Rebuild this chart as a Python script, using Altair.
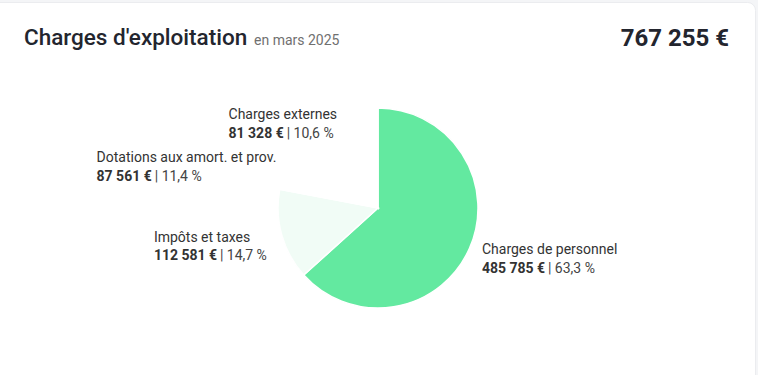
import altair as alt
import pandas as pd

# ---- data ----
categories = ["Charges de personnel", "Impôts et taxes",
              "Dotations aux amort. et prov.", "Charges externes"]
values = [485785, 112581, 87561, 81328]
percents = [63.3, 14.7, 11.4, 10.6]
total_label = "767 255 €"
title_text = "Charges d'exploitation"
subtitle_text = "en mars 2025"

# ---- styles ----
slice_colors = ["#63e9a0", "#f1fcf6", "#ffffff", "#ffffff"]
FONT = "Roboto"
W, H = 758, 375
CX, CY, R = 378, 208, 100
LR = 105  # label anchor radius


def fr_money(v):
    return f"{v:,}".replace(",", " ") + " €"


def fr_pct(p):
    return "| " + f"{p:.1f}".replace(".", ",") + " %"


df = pd.DataFrame({
    "cat": categories,
    "value": values,
    "vtxt": [fr_money(v) for v in values],
    "ptxt": [fr_pct(p) for p in percents],
    "idx": list(range(len(categories))),
})

base = alt.Chart(df)

pie = base.mark_arc(outerRadius=R, stroke="white", strokeWidth=1.5).encode(
    theta=alt.Theta("value:Q", stack=True),
    order=alt.Order("idx:Q"),
    color=alt.Color("cat:N", scale=alt.Scale(domain=categories, range=slice_colors), legend=None),
    x=alt.value(CX),
    y=alt.value(CY),
)

# label geometry derived from the slice angles
lab = base.transform_joinaggregate(
    total="sum(value)"
).transform_window(
    cum="sum(value)", sort=[alt.SortField("idx")], frame=[None, 0]
).transform_calculate(
    mid="(datum.cum - datum.value/2) / datum.total * 2 * PI",
).transform_calculate(
    ax=f"{CX} + {LR} * sin(datum.mid)",
    ay=f"{CY} - {LR} * cos(datum.mid)",
    right="sin(datum.mid) > 0",
).transform_calculate(
    w1="length(datum.cat) * 6.3",
    wb="length(replace(datum.vtxt, regexp(' ', 'g'), '')) * 7.86 + (length(datum.vtxt) - length(replace(datum.vtxt, regexp(' ', 'g'), ''))) * 3.5",
).transform_calculate(
    w2="datum.wb + 4 + 48",
).transform_calculate(
    left="datum.right ? datum.ax + 8 : datum.ax - 9 - max(datum.w1, datum.w2)",
    y1="datum.right ? datum.ay - 0.5 : datum.ay + 2.5 + 4 * cos(datum.mid)",
).transform_calculate(
    y2="datum.y1 + 18.5",
    xp="datum.left + datum.wb + 4",
)

line1 = lab.mark_text(align="left", baseline="middle", font=FONT, fontSize=14, color="#333333").encode(
    x=alt.X("left:Q", scale=None), y=alt.Y("y1:Q", scale=None), text="cat:N")
line2b = lab.mark_text(align="left", baseline="middle", font=FONT, fontSize=14, fontWeight="bold", color="#333333").encode(
    x=alt.X("left:Q", scale=None), y=alt.Y("y2:Q", scale=None), text="vtxt:N")
line2p = lab.mark_text(align="left", baseline="middle", font=FONT, fontSize=14, color="#444444").encode(
    x=alt.X("xp:Q", scale=None), y=alt.Y("y2:Q", scale=None), text="ptxt:N")

one = alt.Data(values=[{"a": 1}])
card = alt.Chart(one).mark_rect(fill="white", stroke="#ebecef", strokeWidth=1, cornerRadius=8).encode(
    x=alt.value(-10), x2=alt.value(755.5), y=alt.value(2.5), y2=alt.value(385))

title = alt.Chart(one).mark_text(align="left", baseline="alphabetic", font=FONT, fontSize=22.5,
                                  fontWeight=500, color="#23252e").encode(
    x=alt.value(24), y=alt.value(44.5), text=alt.value(title_text))
subtitle = alt.Chart(one).mark_text(align="left", baseline="alphabetic", font=FONT, fontSize=14,
                                     color="#707070").encode(
    x=alt.value(254), y=alt.value(44.5), text=alt.value(subtitle_text))
total = alt.Chart(one).mark_text(align="right", baseline="alphabetic", font=FONT, fontSize=24,
                                  fontWeight="bold", color="#23252e").encode(
    x=alt.value(729), y=alt.value(45.5), text=alt.value(total_label))

chart = alt.layer(card, pie, line1, line2b, line2p, title, subtitle, total).properties(
    width=W, height=H, padding=0, autosize=alt.AutoSizeParams(type="none"),
    background="#f4f5f7",
).configure_view(stroke=None)

chart.save("out.html", embed_options={"renderer": "svg", "actions": False})
